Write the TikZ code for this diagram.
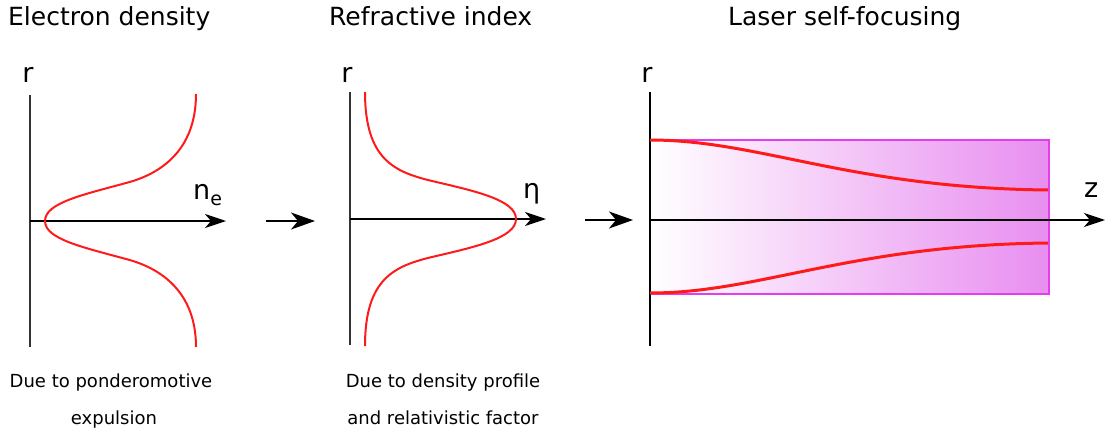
\documentclass[tikz,border=0pt]{standalone}
\usepackage{fontspec}
\setmainfont{DejaVu Sans}
\usetikzlibrary{arrows.meta,positioning}
\definecolor{BeamRed}{HTML}{FF1A1A}
\definecolor{PlasmaPink}{HTML}{E88EF0}
\definecolor{PlasmaEdge}{HTML}{E43CF0}

\begin{document}
\begin{tikzpicture}[x=1pt,y=-1pt,
  title/.style={anchor=base west,inner sep=0pt,font=\fontsize{25}{30}\selectfont},
  axlabel/.style={anchor=base,inner sep=0pt,font=\fontsize{27}{30}\selectfont},
  note/.style={anchor=base,inner sep=0pt,font=\fontsize{18}{22}\selectfont},
  raxis/.style={black!80,line width=1.6pt},
  haxis/.style={black,line width=1.5pt,-{Stealth[length=21pt,width=14pt,inset=6pt]}},
  stage/.style={black,line width=1.6pt,-{Stealth[length=24pt,width=17pt,inset=7pt]}},
  profile/.style={BeamRed,line width=2pt},
  beam/.style={BeamRed,line width=3pt}]
  \useasboundingbox (0,0) rectangle (1112,434);

  % titles
  \node[title] (tdens) at (8,25) {Electron density};
  \node[title] (tindex) at (329,25) {Refractive index};
  \node[title] (tfocus) at (728,25) {Laser self-focusing};

  % axis ends
  \coordinate (r1top) at (30,95);   \coordinate (r1bot) at (30,347);
  \coordinate (o1) at (30,221);     \coordinate (x1end) at (226,221);
  \coordinate (r2top) at (350,92);  \coordinate (r2bot) at (350,345);
  \coordinate (o2) at (350,219);    \coordinate (x2end) at (546,219);
  \coordinate (r3top) at (650,92);  \coordinate (r3bot) at (650,346);
  \coordinate (o3) at (650,220);    \coordinate (x3end) at (1105,220);

  % plasma channel
  \shade[left color=white,right color=PlasmaPink] (650,140) rectangle (1049,294);
  \draw[PlasmaEdge,line width=1.8pt] (650,140) rectangle (1049,294);

  % axes
  \draw[raxis] (r1top) -- (r1bot);
  \draw[haxis] (o1) -- (x1end);
  \draw[raxis] (r2top) -- (r2bot);
  \draw[haxis] (o2) -- (x2end);
  \draw[black,line width=1.5pt] (r3top) -- (r3bot);
  \draw[haxis] (o3) -- (x3end);

  \node[axlabel] (lr1) at (28,82) {r};
  \node[axlabel] (lr2) at (347,82) {r};
  \node[axlabel] (lr3) at (647,82) {r};
  \node[axlabel,anchor=base west] (lne) at (193,199)
    {n\raisebox{-6pt}{\fontsize{19}{20}\selectfont e}};
  \node[axlabel,anchor=base west] (leta) at (523,198) {η};
  \node[axlabel,anchor=base west] (lz) at (1084,197) {z};

  % profiles
  \draw[profile] (196,94) .. controls (196,150) and (161,174) .. (126,183)
    .. controls (82,195) and (45,203) .. (45,221)
    .. controls (45,239) and (82,247) .. (126,259)
    .. controls (161,268) and (196,292) .. (196,347);
  \draw[profile] (365,92) .. controls (365,160) and (395,172) .. (432,181)
    .. controls (475,191) and (516,200) .. (516,219)
    .. controls (516,238) and (475,247) .. (432,257)
    .. controls (395,266) and (365,278) .. (365,346);
  \draw[beam] (650,140) .. controls (760,140) and (850,188) .. (1048,190);
  \draw[beam] (650,293) .. controls (760,293) and (850,245) .. (1048,243);

  % stage arrows
  \coordinate (s1a) at (266,221); \coordinate (s1b) at (315,221);
  \coordinate (s2a) at (585,220); \coordinate (s2b) at (633,220);
  \draw[stage] (s1a) -- (s1b);
  \draw[stage] (s2a) -- (s2b);

  % notes
  \node[note] (why1) at (111,387) {Due to ponderomotive};
  \node[note] (why1b) at (114,424) {expulsion};
  \node[note] (why2) at (443,387) {Due to density profile};
  \node[note] (why2b) at (443,424) {and relativistic factor};
\end{tikzpicture}
\end{document}
